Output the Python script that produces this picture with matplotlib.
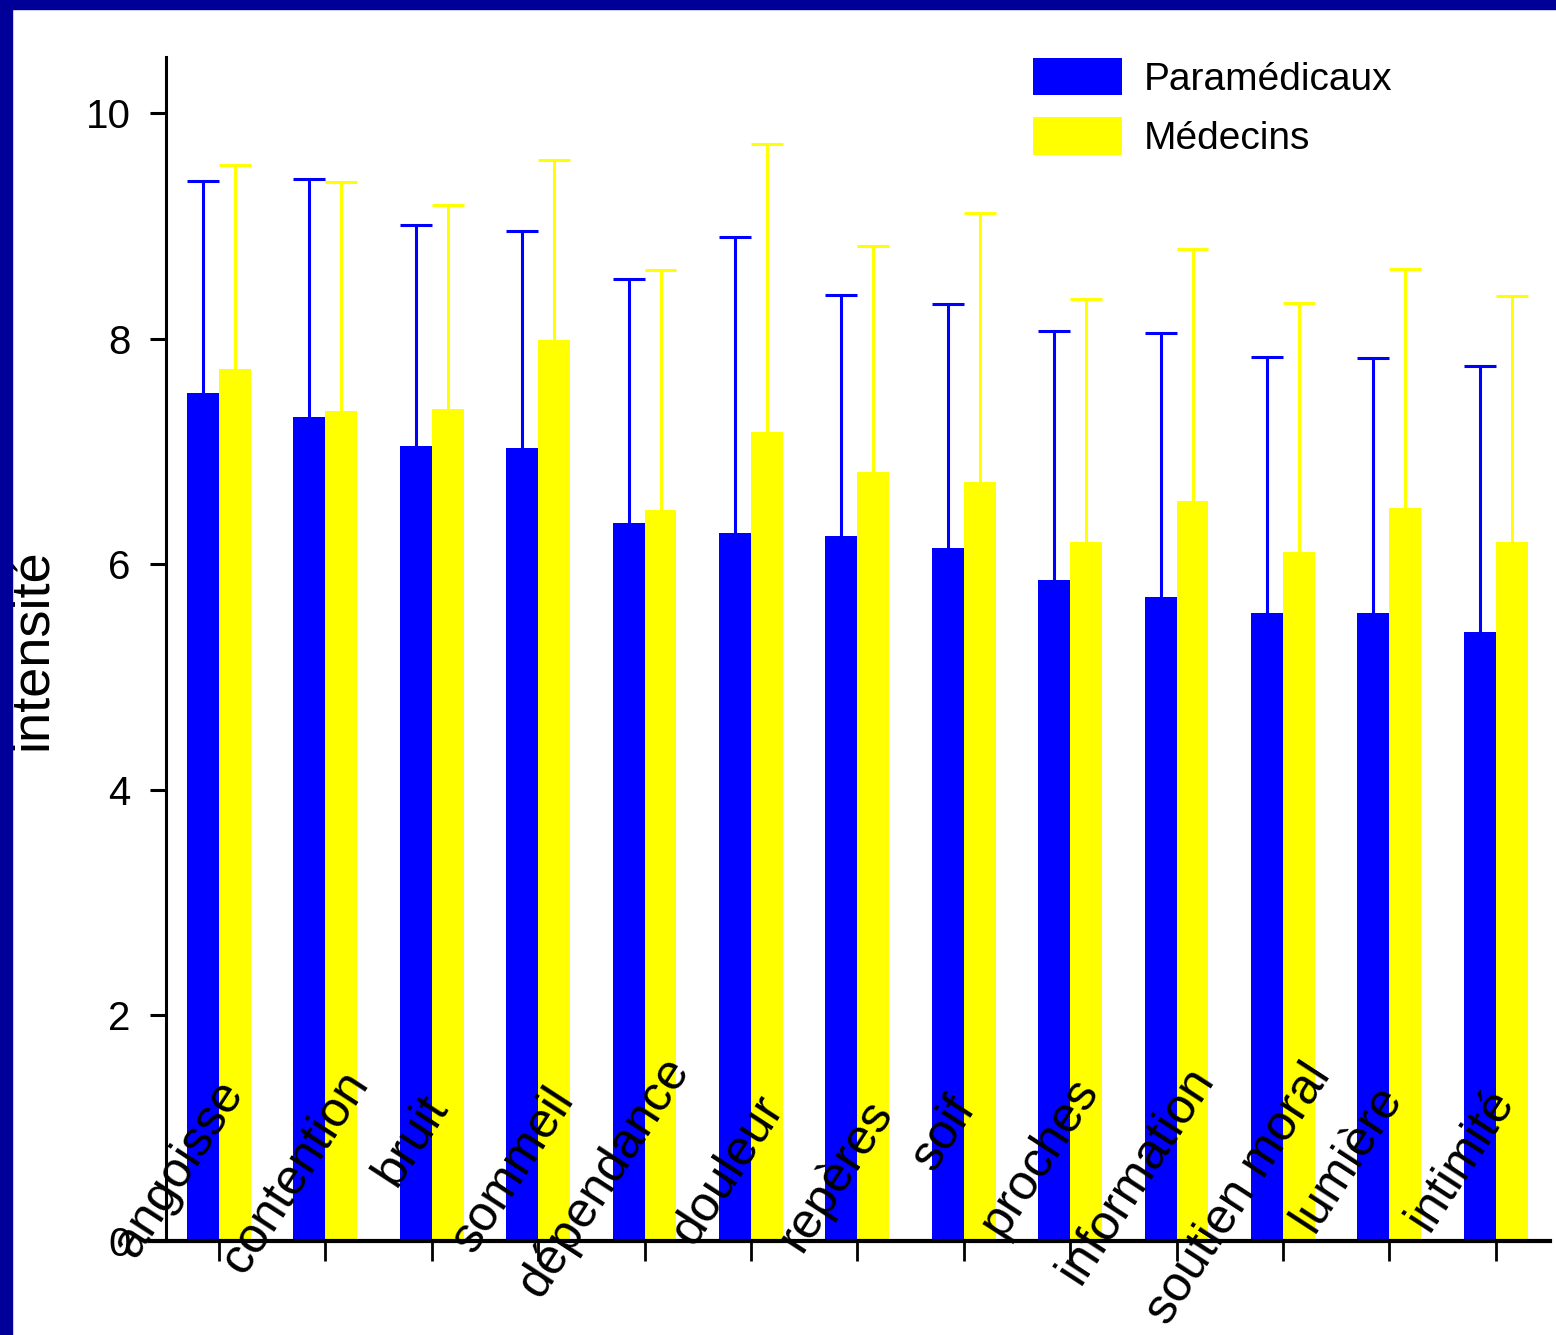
import numpy as np
import matplotlib
matplotlib.use('Agg')
import matplotlib.pyplot as plt
from matplotlib.patches import Rectangle

# values
categories = ['angoisse', 'contention', 'bruit', 'sommeil', 'dépendance', 'douleur',
              'repères', 'soif', 'proches', 'information', 'soutien moral', 'lumière', 'intimité']
para_mean = [7.52, 7.31, 7.05, 7.03, 6.37, 6.28, 6.25, 6.15, 5.86, 5.71, 5.57, 5.57, 5.40]
para_top = [9.40, 9.42, 9.01, 8.96, 8.53, 8.90, 8.39, 8.31, 8.07, 8.05, 7.84, 7.83, 7.76]
med_mean = [7.73, 7.36, 7.38, 7.99, 6.48, 7.17, 6.82, 6.73, 6.20, 6.56, 6.11, 6.50, 6.20]
med_top = [9.54, 9.39, 9.19, 9.59, 8.61, 9.73, 8.82, 9.12, 8.35, 8.80, 8.32, 8.62, 8.38]
para_sd = np.array(para_top) - np.array(para_mean)
med_sd = np.array(med_top) - np.array(med_mean)
yticks = [0, 2, 4, 6, 8, 10]

# hand placed category labels in the original: centre offset from tick (px) and centre height (px)
lab_dx = [-40, -30, -20, -25, -41, -23, -22, -20, -30, -40, -44, -42, -35]
lab_y = [1168, 1172, 1140, 1170, 1177, 1170, 1175, 1133, 1157, 1175, 1194, 1158, 1160]

font = ['Liberation Sans', 'DejaVu Sans']
blue = '#0000ff'
yellow = '#ffff00'

W, H = 1556, 1335
fig = plt.figure(figsize=(W/100, H/100), dpi=100)
ax = fig.add_axes([150/W, (H-1241)/H, 1400/W, (1241-57)/H])

x = np.arange(len(categories))
bw = 0.30
b1 = ax.bar(x-bw/2, para_mean, bw, color=blue, label='Paramédicaux')
b2 = ax.bar(x+bw/2, med_mean, bw, color=yellow, label='Médecins')
# upper error bars only
ax.vlines(x-bw/2, para_mean, para_mean+para_sd, color=blue, lw=2.2)
ax.hlines(para_mean+para_sd, x-bw, x, color=blue, lw=2.2)
ax.vlines(x+bw/2, med_mean, med_mean+med_sd, color=yellow, lw=2.2)
ax.hlines(med_mean+med_sd, x, x+bw, color=yellow, lw=2.2)

ax.set_xlim(-0.6485, 12.51)
ax.set_ylim(0, 10.5)
ax.spines['top'].set_visible(False)
ax.spines['right'].set_visible(False)
ax.spines['left'].set_position(('axes', 16/1400))
ax.spines['left'].set_linewidth(2.2)
ax.spines['bottom'].set_linewidth(3)
ax.set_yticks(yticks)
ax.set_yticklabels([str(t) for t in yticks], family=font, fontsize=29)
ax.tick_params(axis='y', length=11.5, width=2.2, pad=14)
ax.set_xticks(x)
ax.set_xticklabels([])
ax.tick_params(axis='x', length=14.4, width=2)

px_x = 1400/(12.51+0.6485)
px_y = (1241-57)/10.5
for i, c in enumerate(categories):
    ax.text(i + lab_dx[i]/px_x, (1241-lab_y[i])/px_y, c, rotation=57, rotation_mode='anchor',
            ha='center', va='center', family=font, fontsize=36, clip_on=False)

fig.text(47/W, 1-649/H, 'intensité', rotation=90, rotation_mode='anchor', ha='center',
         va='baseline', family=font, fontsize=39, zorder=1)

leg = ax.legend(handles=[b1, b2], loc='upper left', bbox_to_anchor=(1033/W, 1-58/H),
                bbox_transform=fig.transFigure, frameon=False, borderpad=0, borderaxespad=0,
                handlelength=2.3, handleheight=1.1, handletextpad=0.55, labelspacing=0.5,
                prop={'family': font, 'size': 28})

# navy frame top and left
fig.patches.append(Rectangle((0, 1-9/H), 1, 9/H, transform=fig.transFigure, color='#000099', zorder=10))
fig.patches.append(Rectangle((0, 0), 12/W, 1, transform=fig.transFigure, color='#000099', zorder=10))

fig.savefig('out.png', dpi=100)
